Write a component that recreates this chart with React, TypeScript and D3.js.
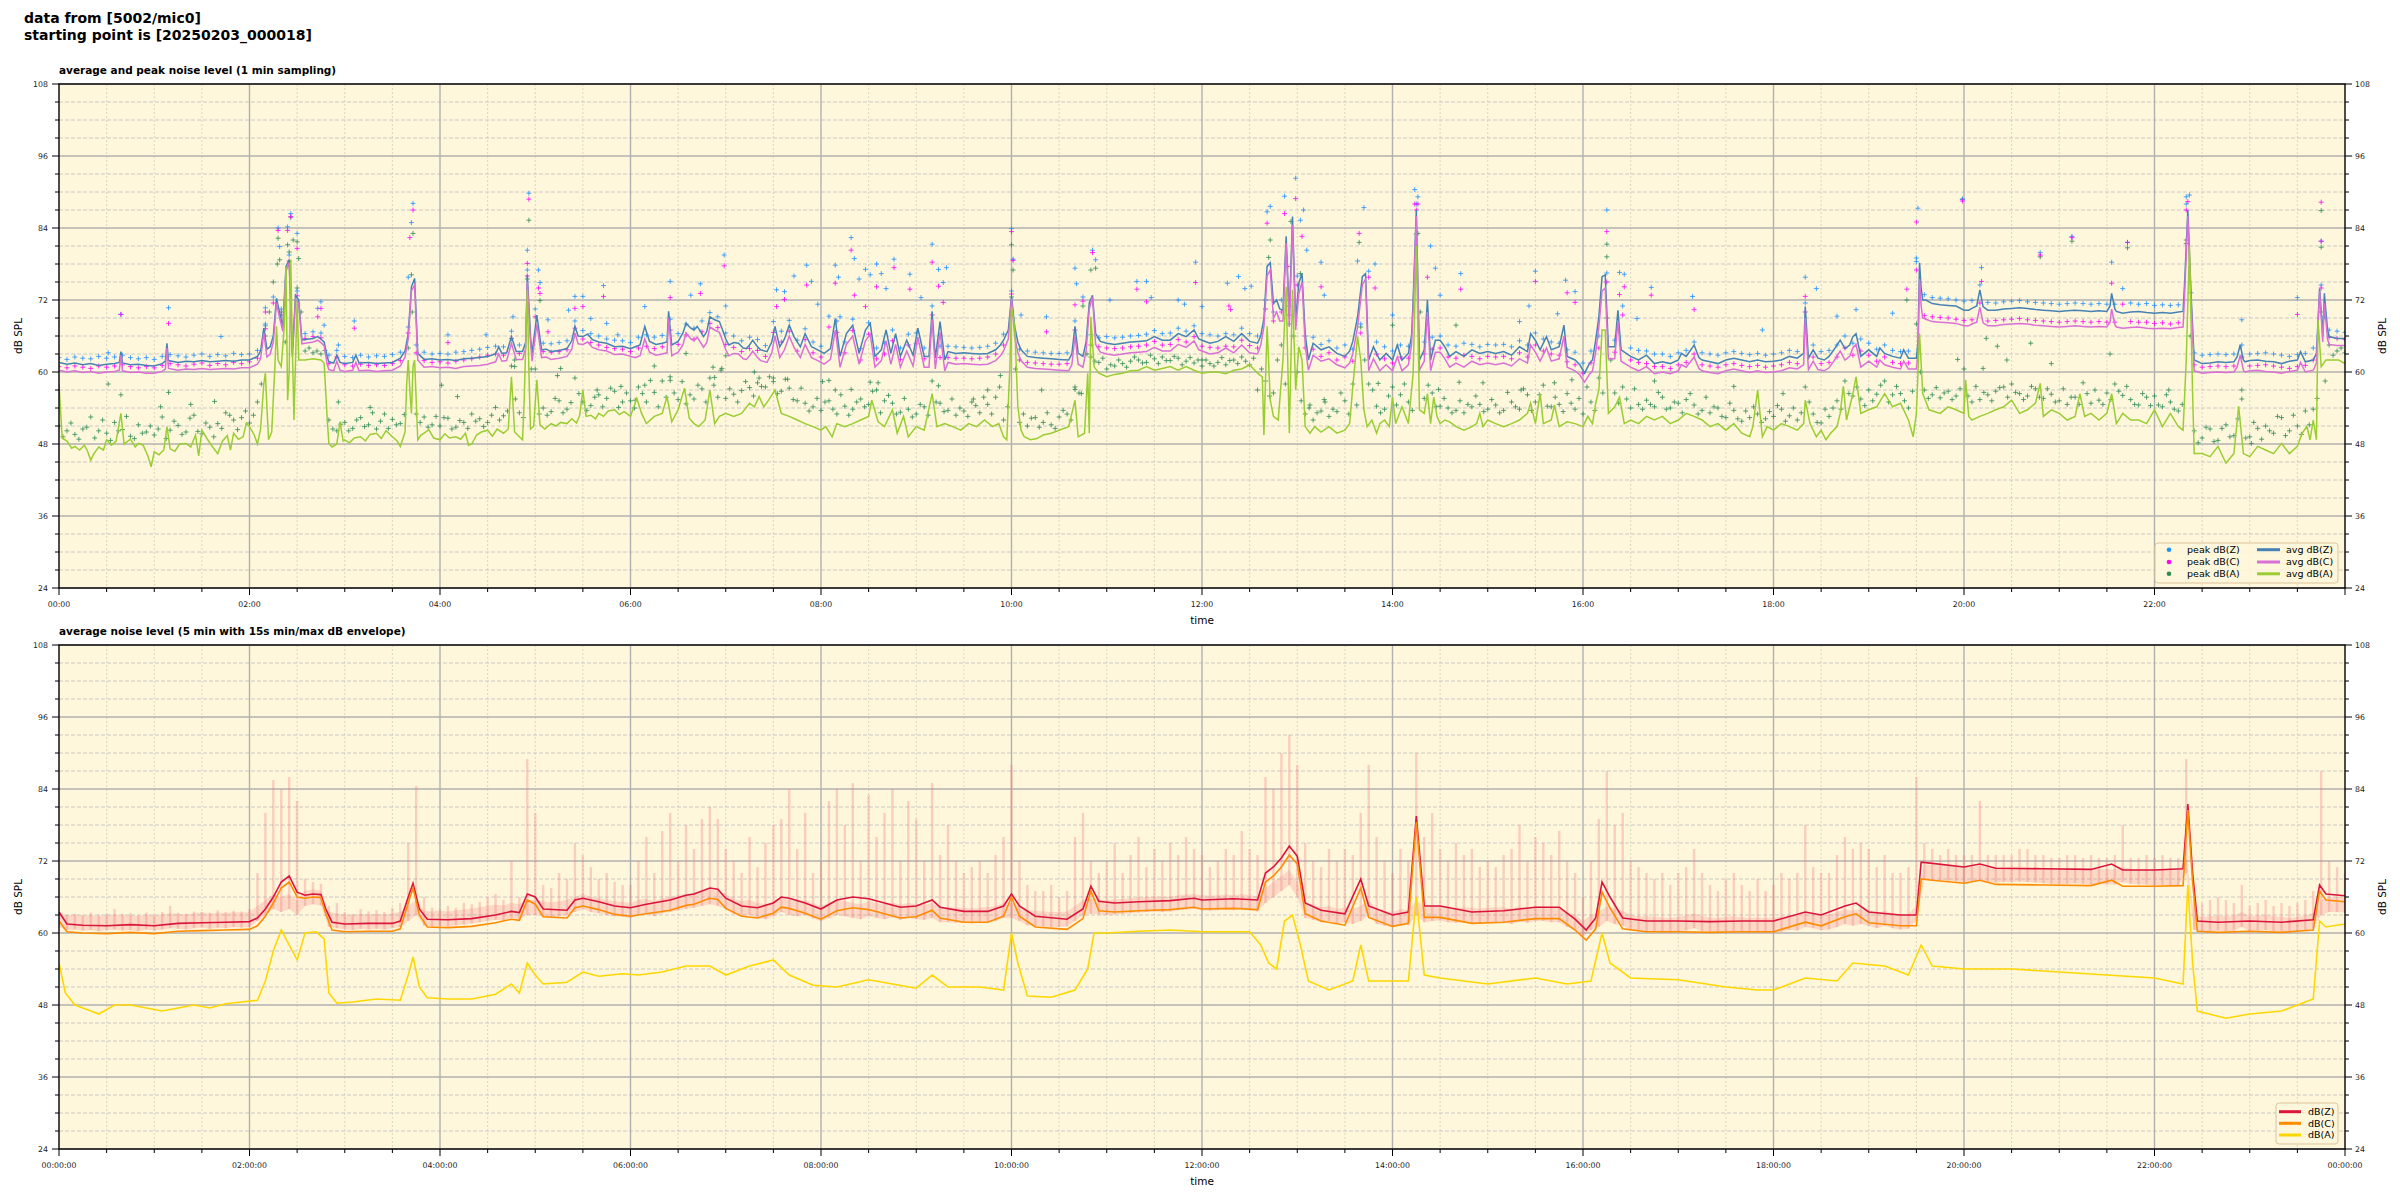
import React, { useEffect, useRef } from "react";
import * as d3 from "d3";

// ---------- DATA (minutes since 00:00, dB) ----------
const X_TICKS_1 = ["00:00","02:00","04:00","06:00","08:00","10:00","12:00","14:00","16:00","18:00","20:00","22:00"];
const X_TICKS_2 = ["00:00:00","02:00:00","04:00:00","06:00:00","08:00:00","10:00:00","12:00:00","14:00:00","16:00:00","18:00:00","20:00:00","22:00:00","00:00:00"];
const Y_TICKS = [24,36,48,60,72,84,96,108];

const avgZ: [number, number][] = [[0,61.6],[5,61.3],[10,61.5],[15,61.2],[20,61.4],[25,61.1],[30,61.3],[35,61.4],[38,61.6],[39,63.4],[40,61.5],[45,61.2],[50,61.3],[55,61.1],[60,61.0],[65,61.4],[67,61.8],[68,64.8],[69,61.9],[75,61.6],[80,61.8],[85,61.7],[90,61.9],[95,61.7],[100,61.8],[105,61.9],[110,61.8],[115,62.0],[120,62.0],[125,62.6],[127,63.5],[129,67.3],[131,63.8],[133,64.2],[135,66],[137,72.3],[139,69.8],[141,67.6],[143,77.6],[145,78.7],[147,63.1],[149,72.8],[151,72.0],[153,65.3],[155,65.4],[160,65.6],[163,65.9],[165,65.5],[167,65.0],[169,62.5],[170,61.7],[173,61.5],[175,62.8],[177,61.6],[180,61.4],[185,61.6],[187,62.8],[189,61.5],[195,61.6],[200,61.4],[205,61.5],[210,61.6],[215,62.3],[218,63.5],[220,66.4],[222,74.2],[224,75.6],[226,63.1],[230,62.1],[235,62.2],[240,62.0],[245,62.1],[250,61.9],[255,62.2],[260,62.3],[265,62.4],[270,62.6],[275,63.0],[277,64.2],[279,63.1],[282,63.2],[285,65.9],[288,63.4],[292,63.4],[294,65],[295,76.2],[297,66],[298,63.1],[301,69.5],[304,63.7],[307,63.8],[310,63.4],[315,63.6],[320,63.9],[323,65.2],[325,67.6],[327,66.0],[330,65.9],[333,66.3],[336,65.4],[340,65.0],[345,64.8],[350,64.2],[355,64.3],[360,63.9],
[363,64.2],[366,64.5],[369,67.6],[372,65.1],[376,64.6],[380,64.8],[383,65.0],[384,70.1],[386,64.5],[390,65.1],[393,66.5],[395,68.1],[398,67.3],[400,67.0],[402,67.6],[404,66.8],[406,65.9],[408,66.7],[410,69.2],[413,68.7],[416,68.4],[418,67.0],[420,65.5],[422,64.5],[425,64.9],[428,64.8],[431,64.0],[433,63.9],[435,64.5],[437,65.3],[440,64.2],[442,63.7],[446,63.4],[449,65.0],[451,67.6],[454,64.2],[457,65.5],[460,67.8],[463,65.9],[467,64.2],[470,66.4],[474,64.2],[478,63.7],[482,63.1],[486,63.9],[489,68.9],[492,62.6],[496,66.4],[500,67.8],[504,63.1],[508,67.0],[511,68.1],[514,62.6],[518,63.7],[521,67.0],[524,63.1],[527,66.4],[530,62.6],[534,65.3],[538,62.8],[541,67.3],[545,62.6],[548,62.6],[550,70.1],[552,62.3],[555,68.4],[558,62.0],[560,63.4],[565,63.1],[570,63.2],[575,63.1],[580,63.0],[585,63.1],[590,63.7],[593,64.5],[595,65.3],[598,67.0],[600,72.6],[602,67.6],[604,65.0],[606,63.7],[610,62.6],[615,62.4],[620,62.3],[625,62.2],[630,62.1],[636,62.0],[638,63.0],[640,67.6],[642,63.1],[645,62.6],[647,65],[649,71.5],[651,72.8],[653,66.4],[656,65.1],[660,64.8],[665,64.6],[670,64.8],[675,65.0],[680,65.1],[685,65.2],[690,65.9],[695,65.3],[700,65.3],[705,66.4],[710,65.9],[715,67.0],[718,65.5],[720,65.3],
[725,64.8],[730,65.1],[735,65.9],[740,65.1],[745,66.4],[750,65.1],[755,64.8],[757,66],[759,68.9],[761,77.6],[763,78.2],[765,71.4],[767,72.0],[769,70.5],[771,70.3],[773,82.6],[775,69.2],[777,85.9],[779,68.7],[781,74.8],[783,76.4],[785,66.4],[787,62.0],[790,64.8],[795,63.7],[800,64.2],[805,63.1],[810,62.6],[813,63.5],[815,65.1],[818,69.2],[821,75.9],[823,76.4],[825,62.0],[828,64.2],[832,62.0],[836,63.1],[840,62.0],[843,64.5],[846,62.0],[850,63.1],[852,66],[853,72.0],[855,87.0],[857,62.0],[860,63.7],[862,72.0],[864,62.0],[867,65.3],[870,65.3],[873,64.2],[876,62.6],[880,63.4],[885,62.6],[890,63.7],[895,63.1],[900,63.4],[905,63.1],[910,63.4],[915,62.8],[920,64.2],[925,63.4],[927,66.4],[930,65.3],[933,63.7],[937,65.9],[940,63.7],[945,64.2],[948,67.8],[950,62.6],[955,62.0],[958,61.2],[961,59.8],[964,61.4],[966,62.0],[968,65.3],[970,69.2],[972,75.9],[974,76.2],[976,64.2],[980,64.2],[982,70.3],[984,63.7],[990,62.6],[995,62.0],[1000,62.8],[1005,61.4],[1010,61.7],[1015,61.4],[1020,62.0],[1022,63.1],[1025,62.6],[1030,64.5],[1033,62.4],[1035,62.0],[1040,61.7],[1045,61.4],[1050,62.0],[1055,62.3],[1060,62.0],[1065,61.7],[1070,62.0],[1075,61.7],[1080,61.8],
[1085,62.0],[1090,62.6],[1095,62.3],[1099,63.1],[1100,70.9],[1102,62.3],[1105,63.7],[1108,62.3],[1112,62.0],[1115,62.6],[1118,63.7],[1122,65.3],[1125,63.9],[1128,64.5],[1130,65.9],[1132,66.4],[1135,62.6],[1140,63.7],[1145,62.6],[1147,64],[1150,63.1],[1155,62.6],[1160,62.3],[1162,63.7],[1165,62.3],[1170,62.3],[1171,65],[1172,78.2],[1173,74],[1174,72.0],[1176,72.0],[1180,71.4],[1185,71.2],[1190,71.1],[1195,71.0],[1200,70.3],[1203,70.3],[1205,70.6],[1208,71],[1210,73.7],[1212,70.9],[1215,70.3],[1220,70.3],[1225,70.5],[1230,70.6],[1235,70.7],[1240,70.6],[1245,70.4],[1250,70.3],[1255,70.2],[1260,70.1],[1265,70.2],[1270,70.3],[1275,70.2],[1280,70.1],[1285,70.2],[1290,70.1],[1292,71],[1293,73.1],[1295,70.5],[1296,70.1],[1300,69.8],[1305,70.0],[1310,70.1],[1315,69.9],[1320,69.8],[1325,69.9],[1330,69.8],[1335,70.0],[1338,70.1],[1339,75],[1341,87.0],[1343,73.1],[1345,62.0],[1350,61.4],[1355,61.5],[1360,61.7],[1365,61.6],[1370,61.7],[1372,62.5],[1374,64.5],[1376,62],[1377,61.7],[1380,61.9],[1385,62.0],[1390,61.8],[1395,61.7],[1400,61.4],[1405,61.8],[1410,62.0],[1412,63.4],[1415,61.7],[1420,62.0],[1422,63.1],[1424,73.9],[1426,66],[1427,73.1],[1429,67],[1430,65.9],[1435,65.6],[1440,65.6]];

const avgC: [number, number][] = [[0,60.3],[5,60.0],[10,60.2],[15,59.9],[20,60.1],[25,59.8],[30,60.0],[35,60.1],[38,60.3],[39,62.8],[40,60.2],[45,59.9],[50,60.0],[55,59.8],[60,59.8],[65,60.1],[67,60.5],[68,64.0],[69,60.6],[75,60.3],[80,60.5],[85,60.4],[90,60.6],[95,60.4],[100,60.5],[105,60.6],[110,60.5],[115,60.7],[120,60.7],[125,61.3],[127,62.2],[129,66.5],[131,62.5],[133,63],[135,65],[137,71.5],[139,69],[141,66.8],[143,76.8],[145,78.2],[147,62.5],[149,72.2],[151,71.4],[153,64.7],[155,64.8],[160,65.0],[163,65.3],[165,64.9],[167,64.4],[169,61.2],[170,60.4],[173,60.2],[175,61.8],[177,60.3],[180,60.1],[185,60.3],[187,61.6],[189,60.2],[195,60.3],[200,60.1],[205,60.2],[210,60.3],[215,61.0],[218,62.5],[220,65.5],[222,73.5],[224,74.5],[226,62.0],[230,60.8],[235,60.9],[240,60.7],[245,60.8],[250,60.6],[255,60.9],[260,61.0],[265,61.1],[270,61.3],[275,61.7],[277,63.0],[279,61.8],[282,61.9],[285,64.8],[288,62.1],[292,62.1],[294,64],[295,75.0],[297,65],[298,61.8],[301,68.0],[304,62.4],[307,62.5],[310,62.1],[315,62.3],[320,62.6],[323,63.8],[325,66.5],[327,64.7],[330,64.6],[333,65.0],[336,64.1],[340,63.7],[345,63.5],[350,62.9],[355,63.0],[360,62.6],
[363,62.4],[366,62.7],[369,65.5],[372,63.3],[376,62.8],[380,63.0],[383,63.2],[384,69.0],[386,62.7],[390,63.3],[393,64.5],[395,66.5],[398,65.5],[400,65.2],[402,65.8],[404,65.0],[406,64.1],[408,64.9],[410,67.5],[413,67.0],[416,66.6],[418,65.2],[420,63.7],[422,62.7],[425,63.1],[428,63.0],[431,62.2],[433,62.1],[435,62.7],[437,63.5],[440,62.4],[442,61.9],[446,61.6],[449,63.2],[451,66.0],[454,62.4],[457,63.7],[460,66.0],[463,64.1],[467,62.4],[470,64.6],[474,62.4],[478,61.9],[482,61.3],[486,62.1],[489,67.0],[492,60.8],[496,64.6],[500,66.0],[504,61.3],[508,65.2],[511,66.3],[514,60.8],[518,61.9],[521,65.2],[524,61.3],[527,64.6],[530,60.8],[534,63.5],[538,61.0],[541,65.8],[545,60.8],[548,60.8],[550,68.8],[552,60.5],[555,66.6],[558,60.2],[560,61.6],[565,61.3],[570,61.4],[575,61.3],[580,61.2],[585,61.3],[590,61.9],[593,62.7],[595,63.5],[598,65.5],[600,72.2],[602,66.0],[604,63.2],[606,61.9],[610,60.8],[615,60.6],[620,60.5],[625,60.4],[630,60.3],[636,60.2],[638,61.2],[640,66.0],[642,61.3],[645,60.8],[647,63.5],[649,70.5],[651,72.5],[653,64.6],[656,63.3],[660,63.0],[665,62.8],[670,63.0],[675,63.2],[680,63.3],[685,63.4],[690,64.1],[695,63.5],[700,63.5],[705,64.6],[710,64.1],[715,65.2],[718,63.7],[720,63.5],
[725,63.0],[730,63.2],[735,64.0],[740,63.2],[745,64.5],[750,63.2],[755,63.0],[757,64.5],[759,67.5],[761,76.0],[763,77.0],[765,69.0],[767,70.0],[769,68.5],[771,68.5],[773,81.5],[775,67.5],[777,84.5],[779,67.0],[781,73.0],[783,75.0],[785,64.5],[787,60.3],[790,62.8],[795,61.8],[800,62.2],[805,61.2],[810,60.7],[813,61.5],[815,63.0],[818,67.5],[821,74.5],[823,75.5],[825,60.2],[828,62.2],[832,60.2],[836,61.2],[840,60.2],[843,62.5],[846,60.2],[850,61.2],[852,64.5],[853,70.5],[855,86.0],[857,60.3],[860,61.8],[862,70.0],[864,60.2],[867,63.3],[870,63.3],[873,62.2],[876,60.8],[880,61.5],[885,60.8],[890,61.8],[895,61.2],[900,61.5],[905,61.2],[910,61.5],[915,61.0],[920,62.2],[925,61.5],[927,64.5],[930,63.3],[933,61.8],[937,64.0],[940,61.8],[945,62.2],[948,66.0],[950,60.8],[955,60.2],[958,59.5],[961,58.3],[964,59.6],[966,60.2],[968,63.3],[970,67.5],[972,73.5],[974,74.0],[976,62.2],[980,62.2],[982,68.5],[984,61.8],[990,60.8],[995,60.2],[1000,60.9],[1005,59.7],[1010,60.0],[1015,59.7],[1020,60.2],[1022,61.2],[1025,60.8],[1030,62.5],[1033,60.6],[1035,60.2],[1040,59.9],[1045,59.7],[1050,60.2],[1055,60.5],[1060,60.2],[1065,59.9],[1070,60.2],[1075,59.9],[1080,60.0],
[1085,60.2],[1090,60.7],[1095,60.5],[1099,61.2],[1100,69.0],[1102,60.4],[1105,61.8],[1108,60.4],[1112,60.2],[1115,60.7],[1118,61.8],[1122,63.5],[1125,62.0],[1128,62.6],[1130,64.0],[1132,64.6],[1135,60.8],[1140,61.8],[1145,60.8],[1147,62],[1150,61.2],[1155,60.8],[1160,60.5],[1162,61.8],[1165,60.5],[1170,60.5],[1171,63],[1172,75.5],[1173,71],[1174,69.0],[1176,68.8],[1180,68.4],[1185,68.3],[1190,68.2],[1195,68.1],[1200,67.7],[1203,67.7],[1205,68.0],[1208,68.3],[1210,70.8],[1212,68.2],[1215,67.7],[1220,67.7],[1225,67.9],[1230,68.0],[1235,68.1],[1240,68.0],[1245,67.8],[1250,67.7],[1255,67.6],[1260,67.5],[1265,67.6],[1270,67.7],[1275,67.6],[1280,67.5],[1285,67.6],[1290,67.5],[1292,68.3],[1293,70.5],[1295,67.9],[1296,67.5],[1300,67.3],[1305,67.4],[1310,67.5],[1315,67.3],[1320,67.2],[1325,67.3],[1330,67.2],[1335,67.4],[1338,67.5],[1339,73],[1341,86.0],[1343,72.0],[1345,60.2],[1350,59.8],[1355,59.9],[1360,60.0],[1365,59.9],[1370,60.0],[1372,60.8],[1374,62.8],[1376,60.3],[1377,60.0],[1380,60.2],[1385,60.3],[1390,60.1],[1395,60.0],[1400,59.8],[1405,60.1],[1410,60.3],[1412,61.6],[1415,60.0],[1420,60.3],[1422,61.5],[1424,73.5],[1426,65],[1427,71.5],[1429,65.5],[1430,64.6],[1435,64.4],[1440,64.4]];

const avgA: [number, number][] = [[0,58.0],[2,49.0],[5,48.5],[8,47.3],[10,47.6],[13,47.0],[16,47.8],[18,46.8],[20,45.3],[22,46.4],[25,47.5],[28,47.0],[30,48.7],[33,47.8],[36,48.5],[39,53.1],[41,48.0],[45,48.8],[48,47.5],[50,48.1],[53,47.8],[56,46.0],[58,44.2],[60,46.7],[63,46.2],[66,47.0],[68,50.9],[70,47.2],[73,46.8],[76,48.0],[80,48.1],[83,47.5],[86,49.5],[88,46.0],[90,50.3],[93,49.0],[96,47.8],[100,46.4],[103,48.5],[106,49.4],[108,47.0],[110,49.8],[113,48.8],[116,49.2],[118,51.5],[120,50.9],[123,49.5],[125,48.0],[127,50.5],[129,58.0],[130,59.8],[131,54],[132,48.7],[134,50],[136,61],[137,67.6],[138,62],[140,60.9],[142,68],[143,77.6],[144,55.3],[145,60],[146,78.7],[147,64],[148,52.0],[149,62],[150,72.0],[151,62.0],[155,62.0],[160,62.2],[165,62.0],[167,61.5],[169,52],[170,48.1],[172,47.5],[175,48.0],[177,51.7],[179,48.5],[180,48.7],[183,48.2],[186,49],[190,49.2],[193,48.5],[196,49.6],[200,49.8],[203,48.9],[206,50.2],[210,49.2],[213,48.5],[215,47.6],[218,50],[219,58],[220,62.0],[221,57],[222,53.1],[223,60.9],[224,62],[226,48.7],[228,49.5],[230,49.8],[233,50.4],[236,49.0],[240,48.7],[243,49.7],[246,49.0],[250,49.2],[253,48.8],[256,49.8],[258,47.8],[260,48.0],[263,49.5],[266,50.0],[270,50.3],[273,49.3],[276,50.5],[280,49.8],[283,50.5],[285,59.2],[287,50.0],[290,49.2],[292,48.7],[293,55],[295,73.7],[296,60],[297,50.5],[299,51.0],[301,58.7],[303,51.2],[306,50.5],[310,51.4],[313,51.0],[316,51.6],[320,51.4],[323,52.2],[326,51.5],[328,52.8],[330,57.0],[332,52.6],[335,52.8],[338,52.2],[340,53.1],[343,52.6],[346,53.5],[350,53.7],[353,52.9],[356,53.4],[360,52.6],
[364,55.6],[367,53.1],[370,51.4],[375,52.6],[380,53.1],[383,55.9],[386,51.7],[390,53.7],[394,57.3],[397,52.3],[400,51.4],[403,50.9],[407,52.0],[410,57.0],[413,51.4],[416,52.6],[420,53.1],[425,52.6],[430,53.1],[435,54.8],[438,54.2],[441,55.9],[444,54.2],[447,55.3],[451,57.0],[455,53.1],[460,52.6],[465,52.0],[470,51.4],[475,50.9],[480,50.3],[483,50.9],[487,49.2],[490,51.4],[495,50.9],[500,51.4],[505,52.0],[510,52.6],[512,55.3],[516,51.7],[520,50.9],[525,53.7],[528,49.8],[532,52.6],[535,49.2],[540,50.9],[545,50.3],[550,56.4],[553,50.9],[558,51.4],[563,50.9],[568,50.3],[573,51.4],[578,50.9],[583,52.0],[588,50.9],[592,51.4],[595,49.2],[597,48.7],[599,60.9],[600,70.9],[602,67.6],[604,54.2],[606,50.3],[608,49.2],[612,48.7],[616,48.9],[620,49.5],[625,49.8],[630,50.3],[636,50.9],[640,55.3],[642,49.2],[646,49.8],[648,59.8],[649,49.8],[650,69.2],[652,60.9],[655,59.8],[660,59.2],[665,59.6],[670,59.8],[675,60.2],[680,60.3],[685,60.9],[690,60.3],[695,60.6],[700,60.9],[705,60.3],[710,60.9],[715,60.3],[720,59.8],
[725,60.0],[730,60.0],[735,59.7],[740,60.3],[745,60.5],[750,61.2],[755,59.8],[758,59.2],[759,49.5],[761,67.6],[763,55.3],[765,52.6],[768,52.0],[771,62.0],[773,74.2],[775,49.8],[777,73.7],[779,57.0],[781,64.2],[783,62.0],[785,50.9],[788,49.8],[791,50.9],[795,50.0],[800,50.9],[805,49.8],[810,50.3],[813,51.4],[815,57.6],[818,65.9],[820,62.0],[822,53.7],[824,50.9],[827,52.0],[830,49.8],[832,51.4],[835,52.0],[838,50.9],[840,55.8],[842,51.4],[846,54.2],[850,51.4],[853,59.8],[855,81.0],[857,53.7],[860,53.1],[862,56.4],[864,51.4],[866,55.8],[868,52.6],[870,51.4],[873,52.0],[876,51.7],[880,50.9],[885,50.3],[890,50.9],[893,51.4],[895,53.1],[897,50.9],[900,52.0],[905,51.4],[910,50.9],[915,51.4],[920,52.0],[925,53.1],[927,54.8],[930,51.4],[933,56.4],[935,51.4],[940,52.0],[942,54.5],[945,50.9],[950,51.7],[955,51.4],[960,50.9],[963,52.6],[966,51.4],[968,54.8],[970,57.0],[972,67.0],[974,67.0],[976,53.1],[980,54.2],[983,55.8],[986,51.4],[990,52.0],[995,51.4],[1000,52.6],[1005,52.0],[1010,52.6],[1015,51.4],[1020,52.0],[1025,53.1],[1030,52.6],[1035,52.0],[1040,50.9],[1045,51.4],[1050,50.3],[1055,51.4],[1060,49.8],[1065,49.2],[1067,50.9],[1070,57.0],[1073,49.2],[1076,50.9],[1080,50.3],
[1085,51.4],[1090,50.9],[1095,50.3],[1099,51.4],[1100,55.3],[1103,51.4],[1107,49.2],[1110,50.3],[1113,48.7],[1116,49.8],[1120,50.9],[1122,53.1],[1124,57.6],[1126,52.0],[1128,54.2],[1130,56.4],[1132,59.2],[1135,53.1],[1140,53.7],[1145,54.2],[1150,56.4],[1155,54.2],[1160,54.8],[1165,52.0],[1168,49.2],[1170,53.1],[1172,66.4],[1174,56.4],[1178,53.7],[1185,53.1],[1190,54.2],[1195,53.7],[1200,53.1],[1201,58.7],[1203,52.6],[1205,52.0],[1210,52.6],[1215,53.1],[1220,53.7],[1225,54.2],[1230,55.3],[1235,53.1],[1240,53.7],[1245,54.8],[1248,58.1],[1250,52.6],[1255,53.7],[1260,53.1],[1265,52.0],[1270,52.6],[1273,56.4],[1276,52.6],[1280,53.1],[1285,52.0],[1290,53.1],[1293,56.4],[1296,51.4],[1300,53.1],[1305,52.0],[1310,52.0],[1315,51.4],[1320,53.7],[1325,50.9],[1330,53.1],[1335,50.9],[1338,50.3],[1340,62.0],[1342,81.0],[1344,56.4],[1345,46.4],[1350,46.4],[1355,45.9],[1360,47.6],[1365,44.8],[1370,46.4],[1373,54.3],[1376,46.4],[1380,45.9],[1385,47.6],[1390,47.0],[1395,46.4],[1400,48.1],[1405,46.4],[1410,47.6],[1413,49.8],[1416,50.9],[1418,48.7],[1420,52.0],[1422,48.7],[1423,68.7],[1425,60.9],[1428,62.0],[1432,62.0],[1436,62.0],[1440,61.4]];

// peak band, one value every 5 minutes (row = one hour)
const peakZBand: number[] = [
62.4,62.1,62.5,62.3,62.2,62.6,62.3,62.5,62.8,62.4,62.2,62.4,
62.1,62.6,62.9,62.7,62.5,62.8,63.0,62.6,62.9,62.7,63.1,62.9,
63.0,63.6,68.0,72.5,70.5,79.5,73.5,66.4,66.7,66.5,62.8,63.6,
62.6,62.4,62.8,62.5,62.7,62.6,62.9,63.3,67.5,64.5,63.3,63.0,
63.1,63.0,63.3,63.4,63.6,63.8,64.1,64.3,64.2,66.8,64.5,77.0,
70.5,64.8,64.7,64.9,65.2,68.5,66.9,66.4,66.0,65.5,65.3,65.2,
64.9,65.8,66.2,65.8,66.1,68.8,66.4,68.0,67.3,68.5,69.9,69.2,
66.5,66.0,65.2,65.8,65.4,64.4,68.4,66.8,68.6,65.3,67.2,65.0,
64.3,69.3,68.5,65.0,68.8,63.9,68.2,64.0,64.8,67.0,64.0,66.3,
66.5,64.0,71.0,64.3,64.3,64.2,64.1,64.0,64.1,64.3,64.8,66.3,
73.5,63.8,63.5,63.3,63.2,63.1,63.1,63.2,68.5,72.5,66.2,65.7,
65.9,65.7,65.8,66.0,66.1,66.3,66.9,66.4,66.5,67.3,66.8,67.7,
66.4,66.2,66.0,66.4,66.2,67.3,66.4,66.0,72.0,70.0,72.0,71.0,
76.0,66.0,65.8,64.6,65.2,64.0,64.5,63.8,68.0,76.8,65.0,64.2,
63.5,64.5,64.3,88.0,65.0,65.8,66.0,64.5,64.3,64.8,64.6,64.2,
64.6,64.5,64.6,64.2,65.2,64.5,66.5,65.5,65.0,64.8,63.7,63.3,
61.5,63.5,66.0,76.5,65.3,71.0,64.0,63.6,63.5,63.0,63.0,62.6,
63.2,63.6,65.0,63.2,63.0,62.8,63.2,63.4,63.1,62.9,63.1,62.8,
63.0,63.2,63.6,63.4,71.5,64.5,63.4,63.6,64.5,66.0,64.8,65.5,
64.8,63.8,64.5,63.6,63.4,63.5,79.0,72.9,72.4,72.3,72.2,72.0,
71.8,71.9,74.5,71.6,71.5,71.7,71.8,71.9,71.7,71.6,71.5,71.4,
71.3,71.4,71.5,71.4,71.3,71.4,71.3,71.3,73.9,71.5,71.3,71.4,
71.1,71.2,71.1,71.2,88.0,63.2,62.8,62.9,63.0,62.9,63.0,64.5,
63.0,63.1,63.2,63.0,62.8,62.6,62.9,63.1,64.0,74.5,67.0,66.8,
66.6];

const peakCBand: number[] = [
60.9,60.7,61.0,60.8,60.6,61.0,60.8,61.0,61.2,60.9,60.7,60.9,
60.7,61.1,61.4,61.2,61.0,61.3,61.5,61.1,61.4,61.2,61.6,61.4,
61.7,62.3,67.2,71.5,69.5,78.5,72.7,65.6,65.9,65.7,61.4,62.5,
61.2,61.0,61.3,61.1,61.2,61.1,61.4,61.9,66.5,63.2,61.9,61.6,
61.7,61.5,61.8,62.0,62.2,62.5,62.8,63.0,62.8,65.6,63.1,76.0,
69.2,63.4,63.3,63.4,63.7,67.3,65.5,64.9,64.5,64.1,63.9,63.8,
63.4,64.0,64.3,63.9,64.2,67.0,64.6,66.2,65.5,66.7,68.1,67.4,
64.6,64.1,63.4,63.9,63.6,62.6,66.6,65.0,66.8,63.5,65.4,63.2,
62.5,67.5,66.6,63.2,66.9,62.0,66.3,62.2,63.0,65.2,62.1,64.5,
64.7,62.2,69.5,62.4,62.4,62.3,62.3,62.2,62.3,62.5,63.0,64.5,
73.0,62.0,61.6,61.5,61.4,61.3,61.3,61.4,67.0,71.8,64.5,64.2,
64.0,63.9,64.0,64.2,64.3,64.5,65.1,64.5,64.6,65.4,65.0,65.9,
64.3,64.1,64.0,64.3,64.2,65.3,64.4,64.0,70.5,68.5,70.0,69.5,
74.5,64.0,63.8,62.6,63.2,62.0,62.5,61.8,66.5,75.8,63.0,62.2,
61.5,62.5,62.3,87.0,63.0,63.8,64.0,62.5,62.3,62.8,62.6,62.2,
62.6,62.5,62.6,62.2,63.2,62.5,64.5,63.5,63.0,62.8,61.7,61.2,
59.8,61.5,64.0,75.0,63.3,69.5,62.0,61.6,61.4,60.9,60.9,60.6,
61.2,61.6,63.0,61.2,61.0,60.8,61.2,61.4,61.1,60.9,61.1,60.8,
61.0,61.2,61.6,61.4,70.0,62.5,61.4,61.6,62.5,64.0,62.8,63.5,
62.8,61.8,62.5,61.6,61.4,61.5,77.0,69.4,69.2,69.1,69.0,68.8,
68.6,68.7,71.5,68.5,68.6,68.7,68.8,68.9,68.7,68.6,68.5,68.4,
68.3,68.4,68.5,68.4,68.3,68.4,68.3,68.3,71.3,68.4,68.3,68.3,
68.1,68.2,68.0,68.2,87.0,61.2,60.8,60.9,61.0,60.9,61.0,62.5,
61.0,61.1,61.2,61.0,60.8,60.6,60.9,61.1,62.0,74.0,65.8,65.6,
65.4];

const peakABand: number[] = [
51.0,50.2,49.6,50.5,52.5,50.2,49.8,51.6,50.4,49.3,51.2,50.0,
49.5,52.5,50.3,51.1,50.0,52.8,49.7,50.8,51.4,53.2,52.0,52.4,
51.5,55.0,66.0,75.0,70.0,80.0,74.0,63.5,63.2,63.0,52.0,50.2,
51.6,50.6,52.4,51.2,50.5,53.0,52.1,51.4,64.0,53.0,52.5,51.2,
51.0,52.3,50.8,51.6,53.0,52.2,51.6,54.1,52.7,61.0,53.2,75.5,
60.5,54.0,53.4,55.2,53.8,59.0,55.0,54.4,56.2,55.6,56.8,55.0,
55.2,57.5,55.0,56.6,58.5,59.2,55.4,54.7,55.5,57.2,59.0,55.8,
55.6,56.3,56.9,57.4,58.2,57.5,59.0,56.8,57.3,55.2,54.8,54.2,
53.6,55.2,53.0,54.3,53.8,55.5,54.6,57.0,55.2,54.8,53.3,53.8,
53.0,54.2,58.5,54.8,53.6,52.8,53.5,55.0,53.2,54.6,55.8,52.0,
72.5,51.6,51.0,52.4,51.6,51.2,52.5,53.0,57.5,71.0,62.5,61.6,
60.5,61.0,61.4,61.8,62.0,61.6,62.2,62.5,61.9,62.3,61.8,61.5,
61.0,61.4,61.6,61.2,62.0,62.5,61.2,57.0,58.5,56.5,64.5,68.0,
60.0,53.0,52.0,53.5,52.6,53.4,55.2,58.0,67.5,58.0,54.3,53.8,
57.5,56.2,55.0,83.0,55.6,56.5,54.3,54.0,53.6,53.2,54.2,54.6,
53.8,54.5,53.6,55.0,53.8,56.2,55.0,57.8,54.2,54.6,56.4,53.8,
53.0,55.0,59.0,69.0,56.5,57.5,54.0,54.6,55.3,54.2,55.8,54.0,
54.8,55.4,54.5,53.6,53.2,54.0,52.4,53.6,51.8,52.4,53.0,52.2,
52.6,53.8,52.7,52.0,57.5,53.0,51.5,52.6,55.2,58.5,56.0,55.5,
57.0,56.3,58.5,56.2,56.4,54.0,68.0,57.0,56.2,55.7,56.8,56.0,
60.5,55.0,55.4,56.2,56.8,57.5,58.0,56.4,56.0,57.2,55.6,56.3,
55.2,54.6,55.8,58.2,54.8,55.3,56.5,58.0,56.1,55.4,54.5,55.8,
56.0,54.2,55.0,53.5,82.0,50.2,49.0,50.5,48.6,51.2,49.4,55.5,
49.2,50.6,51.0,49.8,52.4,50.2,51.0,53.5,53.8,70.0,64.5,63.5,
63.2];

// second set of A-weighted peaks, read halfway between the 5-minute marks
const peakABand2: number[] = [
49.2,51.5,48.8,50.8,49.0,52.0,48.6,50.2,52.6,48.9,49.8,51.0,
50.5,48.9,51.8,49.6,52.3,50.1,51.5,49.2,50.6,52.8,50.4,53.5,
52.8,58.0,70.0,78.0,65.0,82.0,70.0,64.0,63.5,63.6,50.5,51.3,
50.2,52.0,50.9,53.2,51.8,50.6,51.2,52.9,70.0,51.6,50.8,52.6,
52.4,50.5,51.9,50.6,51.8,50.9,52.8,52.0,53.5,55.5,52.4,60.5,
53.0,52.8,55.6,53.2,54.9,56.4,53.6,55.8,54.2,57.3,54.1,56.5,
54.0,56.4,58.6,54.2,55.8,56.5,58.4,56.2,57.8,55.0,57.8,60.6,
57.2,55.0,58.4,56.0,57.6,59.2,56.4,58.8,55.4,57.3,53.5,55.6,
55.0,53.8,56.2,52.8,55.0,54.2,56.8,53.2,56.1,53.0,55.6,52.5,
54.6,52.8,55.0,53.4,55.5,54.0,52.6,54.4,55.8,53.0,57.5,54.2,
60.5,53.0,52.3,50.8,53.2,50.6,53.6,52.0,56.5,63.0,61.8,62.3,
61.2,62.0,60.8,62.5,61.5,62.8,61.4,61.9,62.6,61.2,62.4,62.0,
62.0,61.0,62.4,61.9,61.4,61.8,62.3,60.5,56.0,62.0,58.0,66.0,
55.2,54.0,53.2,55.0,53.8,56.5,53.0,54.5,62.0,57.0,53.2,56.0,
54.5,58.0,53.6,70.0,57.8,54.2,55.6,53.2,55.2,54.6,56.0,53.4,
55.4,53.2,56.6,54.2,57.2,53.6,56.2,54.3,55.8,53.4,54.8,55.6,
57.5,53.6,56.5,62.0,54.8,55.5,57.2,53.8,54.6,56.6,53.8,55.0,
53.2,56.4,53.0,55.8,54.2,52.6,54.8,52.2,53.5,54.2,51.6,53.4,
54.4,51.8,54.0,53.2,55.0,51.6,53.8,54.0,53.8,56.4,57.5,54.4,
55.2,57.8,55.0,57.6,55.2,56.8,60.0,55.6,57.4,56.5,55.4,57.2,
56.0,57.6,56.6,55.2,57.4,55.8,56.6,55.4,57.6,55.8,57.2,55.0,
57.2,55.8,54.6,56.4,57.0,54.6,55.4,56.8,57.6,54.6,56.4,54.4,
54.5,56.2,53.8,54.6,66.0,48.2,50.8,48.4,50.6,49.2,52.2,49.0,
51.6,48.8,50.2,52.6,49.4,52.8,49.6,51.2,55.6,58.5,62.8,64.0];

// isolated peak readings that stand out of the band
const peakZOut: [number, number][] = [[39,69.6],[69,70.7],[102,65.9],[31,63.2],[130,70.7],[130,67.7],[138,84],[139,80.9],[144,84.2],[146,86.4],[150,83.1],[163,70.6],[165,71.7],[167,67.8],[176,64.5],[186,68.5],[222,84.9],[223,88.1],[220,75.8],[245,66.2],[269,66.2],[286,69.2],[296,89.8],[295,80.3],[302,77],[303,74.9],[308,68.7],[321,70.3],[325,72.6],[330,72.6],[335,68.9],[343,74.4],[345,68.1],[352,66.2],
[369,70.9],[385,75.1],[404,74.7],[398,72.8],[419,79.5],[420,71],[452,73.7],[457,73.4],[463,76],[471,77.8],[474,75.1],[478,71.3],[489,77.8],[491,75.8],[492,69.2],[499,82.4],[501,78.9],[504,75.5],[508,77.1],[511,76.2],[515,78],[518,76.4],[521,73.9],[526,78.8],[536,76.3],[543,72.4],[550,81.3],[554,77.1],[557,74.9],[559,77.4],[600,83.9],[601,78.8],[640,77.3],[641,74.7],[651,80.3],[653,78.7],[662,72],[679,75.1],[685,75.1],[688,72.4],[705,72],[709,71.3],[716,78.3],[606,69.5],[622,69.2],
[720,70.9],[736,74.8],[743,75.9],[747,73.9],[751,74.3],[761,86.7],[763,87.6],[772,89.3],[779,92.3],[784,87],[782,85.3],[786,80.3],[795,78.3],[797,72.8],[818,78.5],[822,87.4],[829,78],[840,69.5],[854,90.4],[856,89.2],[864,81],[867,77.3],[883,76.4],[870,72.8],[920,68.4],[926,71],[930,76.8],[944,69.7],[949,75.3],[955,73.4],[975,87],[983,76.6],[986,76.3],[1003,74.1],[1029,72.6],[1073,67],[994,68.9],
[1100,75.8],[1107,73.9],[1120,69.3],[1132,70.4],[1155,69.8],[1171,87.3],[1170,78.4],[1199,88.8],[1211,77.4],[1248,79.9],[1268,82.6],[1293,78.3],[1303,81.6],[1340,89.2],[1342,89.5],[1343,73.2],[1375,68.7],[1410,72.4],[1425,81.8],[1427,69.2]];

const peakCOut: [number, number][] = [[39,69.6],[69,68.1],[130,70],[138,83.6],[144,83.6],[146,85.9],[150,80.6],[163,69.2],[165,70.6],[186,67.3],[221,82.4],[223,87],[296,88.8],[295,78.1],[302,74],[303,73.1],[308,66.7],[325,70.6],[330,70.9],[343,72.6],[245,64.9],
[385,72.4],[404,73.1],[419,77.7],[452,70.9],[457,72.1],[471,74.5],[489,74.8],[499,80.3],[501,72.8],[508,70.9],[515,74.2],[526,77.4],[536,73.8],[550,78.3],[554,74.3],[557,71.6],[600,83.4],[601,78.6],[640,71.2],[651,79.9],[679,73.8],[685,71.7],[716,74.9],[622,66.7],
[761,84.8],[772,86.4],[779,88.9],[783,82.6],[774,77.6],[795,74.2],[819,83.1],[829,74],[854,88],[856,88],[862,75.8],[883,73.8],[930,75.1],[950,73.2],[955,71.6],[975,83.4],[983,72.9],[986,74.2],[1003,72.8],[1030,70.4],[737,71],[738,70.4],
[1100,72.6],[1164,73.8],[1170,85],[1199,88.5],[1211,75.1],[1248,79.5],[1268,82.4],[1293,74.8],[1303,81.6],[1341,88.4],[1425,88.3],[1425,81.8],[1410,69.6]];

const peakAOut: [number, number][] = [[31,58],[39,56.2],[69,56.6],[138,82.3],[139,78.7],[144,81.2],[146,85.8],[150,81.7],[151,78.9],[222,76.2],[223,83.1],[296,85.3],[303,71.9],[287,60.9],[287,62],[314,59.4],[316,60.6],[339,57],[354,57.6],[241,57.8],[251,55.9],[176,55],[196,54.1],[98,55.1],[83,54.6],[64,54.2],
[600,81.2],[601,77],[650,77],[653,77.3],[363,55.3],[369,57.8],[385,58.6],[412,60.8],[417,60.3],[420,62.7],[438,60],[441,59],[450,58.4],[459,58.8],[481,58.4],[485,58.6],[489,57],[499,57.1],[511,58.3],[516,58.2],[554,57.7],[576,55.5],[585,57],[593,59.4],[619,57],[640,57.1],[644,56.4],[375,61],[395,63.1],[413,59.1],
[763,82],[762,79.1],[776,85.1],[782,76.4],[819,81.6],[856,83.1],[975,81.3],[975,79.2],[720,62],[880,67.8],[882,58.3],[897,58.2],[921,57],[942,58.2],[953,58.7],[1005,58.5],[1055,57.6],[831,58.1],[840,67.8],[869,57.1],[797,55.4],[788,54.5],
[1199,88.8],[1248,79.2],[1268,81.8],[1303,80.7],[1340,81.4],[1425,86.9],[1425,80.8],[1164,72],[1214,65.6],[1221,64.3],[1227,62],[1242,64.8],[1255,61.4],[1292,63],[1196,62.1],[1212,60.6],[1375,57],[1329,57],[1086,56.4],[1381,48.1]];

// panel 2: 5-minute averages
const p2Z: [number, number][] = [[0,63.5],[5,61.5],[15,61.3],[30,61.2],[45,61.4],[60,61.2],[75,61.6],[90,61.7],[105,61.8],[120,61.9],[125,62.5],[130,64],[135,66],[140,68.5],[145,69.5],[150,66.8],[155,66.3],[160,66.5],[165,66.4],[168,64],[172,61.8],[180,61.5],[195,61.6],[210,61.6],[215,62],[220,66],[223,68.3],[227,64],[232,62.3],[245,62.2],[260,62.4],[275,63],[285,63.6],[290,63.4],[295,66.5],[300,66],[305,64],[320,63.8],[325,65.5],[330,65.8],[340,65.2],[350,64.5],[360,64.2],[370,64.8],[385,65.5],[395,66.3],[400,66.5],[410,67.5],[415,67.3],[420,65.8],[430,64.5],[440,64.2],[450,65],[455,66],[460,65.8],[470,65],[480,64],[490,65.5],[500,66],[510,65.7],[520,65],[530,64.3],[540,64.5],[550,65.5],[555,64.3],[570,63.6],[585,63.6],[595,64.5],[600,66.5],[605,64.5],[615,62.8],[635,62.3],[645,64],[650,67.8],[655,65.3],[665,65],[680,65.2],[700,65.4],[715,65.8],[720,65.5],[740,65.7],[755,65.5],[760,70],[765,71],[770,72.5],[775,74.5],[780,72.8],[785,65],[795,63.8],[810,63.2],[820,69],[825,64.5],[840,63],[850,63.5],[855,79.5],[860,64.5],[870,64.5],[890,63.5],[910,63.7],[930,64.3],[945,64.3],[955,62.3],[962,60.5],[968,62.5],[972,68.5],[977,66],[985,62.5],[1000,62],[1020,62],[1040,61.9],[1060,62],[1080,62],[1100,63.5],[1110,63],[1125,64.5],[1132,65],[1140,63.5],[1160,63],[1170,63],[1173,71.8],[1180,71.6],[1200,71],[1210,71.5],[1220,70.8],[1250,70.7],[1280,70.6],[1293,71.5],[1300,70.5],[1320,70.5],[1338,70.7],[1341,81.5],[1344,70],[1347,62],[1360,61.8],[1380,62],[1400,61.8],[1420,62.2],[1424,68],[1428,66.5],[1440,66.2]];

const p2C: [number, number][] = [[0,62],[5,60.2],[15,60],[30,59.9],[45,60.1],[60,59.9],[75,60.3],[90,60.4],[105,60.5],[120,60.6],[125,61.2],[130,62.8],[135,65],[140,67.5],[145,68.5],[150,66],[155,65.8],[160,66],[165,65.9],[168,63.2],[172,60.5],[180,60.2],[195,60.3],[210,60.3],[215,60.7],[220,65],[223,67.5],[227,63],[232,61],[245,60.9],[260,61.1],[275,61.7],[285,62.3],[290,62.1],[295,65.5],[300,64.8],[305,62.7],[320,62.5],[325,64.2],[330,64.5],[340,63.9],[350,63.1],[360,62.8],[370,63.2],[385,63.8],[395,64.6],[400,64.8],[410,65.8],[415,65.6],[420,64.1],[430,62.8],[440,62.5],[450,63.3],[455,64.3],[460,64.1],[470,63.3],[480,62.3],[490,63.7],[500,64.2],[510,63.9],[520,63.2],[530,62.5],[540,62.7],[550,63.8],[555,62.5],[570,61.8],[585,61.8],[595,62.8],[600,66],[605,62.8],[615,61],[635,60.6],[645,62.4],[650,67],[655,63.7],[665,63.5],[680,63.7],[700,63.9],[715,64.3],[720,64],[740,64.1],[755,63.9],[760,68.5],[765,69.5],[770,71],[775,73],[780,71.5],[785,63.2],[795,62],[810,61.3],[820,67.5],[825,62.6],[840,61.1],[850,61.6],[855,78.5],[860,62.6],[870,62.6],[890,61.6],[910,61.8],[930,62.4],[945,62.4],[955,60.5],[962,58.8],[968,60.7],[972,66.8],[977,64.2],[985,60.7],[1000,60.2],[1020,60.2],[1040,60.1],[1060,60.2],[1080,60.2],[1100,61.8],[1110,61.2],[1125,62.7],[1132,63.2],[1140,61.7],[1160,61.2],[1170,61.2],[1173,69],[1180,68.8],[1200,68.3],[1210,68.8],[1220,68.1],[1250,68],[1280,67.9],[1293,68.8],[1300,67.8],[1320,67.8],[1338,67.9],[1341,80.5],[1344,68.5],[1347,60.3],[1360,60.1],[1380,60.3],[1400,60.1],[1420,60.5],[1424,67],[1428,65.5],[1440,65.2]];

const p2A: [number, number][] = [[0,55],[4,50],[10,48],[20,47],[25,46.5],[35,48],[45,48],[55,47.5],[65,47],[75,47.5],[85,48],[95,47.5],[105,48.2],[115,48.5],[125,48.8],[130,52],[135,57],[140,60.5],[145,58],[150,55.5],[155,60],[162,60.2],[167,59],[170,50],[175,48.3],[185,48.5],[200,49],[215,48.8],[220,53],[223,56],[227,51],[232,49.2],[245,49],[260,49],[275,49.8],[285,51.5],[290,50],[295,55],[300,53],[305,51.5],[320,51.8],[330,53.5],[340,52.8],[355,53.2],[365,53],[380,53.5],[395,54.5],[410,54.5],[420,53],[435,54.5],[450,55.5],[460,53],[475,51.3],[490,51],[510,52.2],[525,51.5],[540,50.8],[550,53],[560,51],[580,51],[595,50.5],[600,60],[604,55],[610,49.5],[625,49.3],[640,50.5],[648,54],[652,60],[660,60],[680,60.3],[700,60.5],[720,60.2],[750,60.2],[757,58],[762,55],[767,54],[772,62],[777,63],[782,58],[787,52],[800,50.5],[815,52],[820,58],[825,52],[840,52],[850,52],[855,66],[860,53],[870,52.5],[900,51.5],[930,52.5],[950,51.5],[965,52],[972,60],[977,55],[990,52.5],[1020,52.2],[1050,51],[1070,50.5],[1080,50.5],[1100,52.5],[1120,52],[1130,55],[1150,54.5],[1165,53],[1173,58],[1180,54.5],[1200,54],[1230,54],[1260,53.5],[1290,53],[1320,52.5],[1338,51.5],[1341,68],[1344,55],[1347,47],[1365,45.8],[1380,46.5],[1400,47],[1415,48.5],[1420,49],[1424,62],[1428,61],[1440,61.5]];

// 15 s envelope (max / min), one value every 5 minutes
const envHi: number[] = [
63.5,63,63.2,63,63.4,63.1,63.2,64,63.2,63.3,63,63.4,
63.1,63.5,64.5,63.4,63.2,63.6,63.5,63.4,63.8,63.5,63.7,63.6,
64,70,80,85.5,84,86,82,69,68.5,68.2,64.5,65,
63.5,63.2,64,63.6,63.8,63.5,64.2,65,75,84.5,66,64.2,
64,64.5,64.2,65,64.8,65.2,66,66.5,65.5,72,66,89,
80,68,67.5,70,69,75,73,71,69,70,68.5,68,
68,72,76,70,77,80,72,78,74,79,81,79,
74,72,70,76,71,75,78,79,84,74,80,70,
72,82,84,78,85,72,83,76,80,84,72,82,
79,72,85,73,78,72,70,71,72,70,73,76,
88,72,68,67,67,68,66,67,76,80,72,70,
72,75,70,73,76,71,74,72,75,73,76,74,
73,71,72,74,73,77,74,73,86,84,90,93,
88,75,72,71,74,72,74,73,80,88,76,72,
70,74,72,90,76,80,74,72,75,73,74,71,
72,71,73,74,78,72,76,75,73,77,72,70,
66,72,79,87,78,80,72,71,70,69,70,68,
70,71,74,70,68,67,69,70,68,67,69,67,
68,70,69,70,78,71,70,70,73,76,74,75,
74,71,73,70,70,71,86,75,74,73,74,73,
73,73,82,73,73,73,73,74,74,73,73,72.5,
72.5,73,73,72.5,73,72.5,72.5,73,78,72.5,72.5,73,
72.5,73,72.5,72.5,89,66,65,65.5,66,65.5,65,68,
64.5,65,65.5,64.5,65,64.5,65,65.5,67,87,72,71,
70];

const envLo: number[] = [
61,60.5,60.6,60.4,60.5,60.3,60.5,60.6,60.4,60.5,60.3,60.6,
60.4,60.6,60.8,60.7,60.6,60.8,60.9,60.7,60.9,60.8,61,60.9,
61,62,63,64,63.5,64,63,64.5,64.8,64.6,61,60.8,
60.6,60.5,60.7,60.6,60.7,60.6,60.8,61,62,63,61.2,61.1,
61.2,61.1,61.3,61.4,61.6,61.8,62,62.2,62.1,62.5,62.3,63,
63,62.8,62.6,62.8,63,63.5,64,63.5,63.3,63,62.8,62.7,
62.5,63,63.2,62.8,63.3,63.5,63.8,64,64.2,64.5,64.8,64.5,
64,63.2,62.8,63,62.5,62.3,62.8,63.5,63,62.8,63,62.4,
62,62.5,63,62.8,62.5,62.3,62.8,62.5,62.3,62.6,62.2,62.5,
62.3,62.2,62.5,61.8,61.8,61.7,61.7,61.6,61.7,61.8,62,62.5,
62.5,62,61.3,61.2,61.1,61,61,61.1,62,63,63.2,63.1,
63,63.1,63.2,63.3,63.4,63.5,63.6,63.5,63.6,63.8,63.9,64,
63.8,63.7,63.8,63.9,63.8,64,63.8,63.6,65,66,67,68,
66,62.5,62.2,61.8,62,61.5,61.8,61.5,62,63,61.5,61.2,
61,61.5,61.3,63,61.8,62,62.1,61.8,61.7,61.8,61.7,61.5,
61.8,61.7,61.8,61.5,61.9,61.7,62,62,61.8,61.8,61,60.5,
59.5,60.5,61,62,61.5,61.2,60.5,60.3,60.3,60.2,60.1,60,
60.2,60.4,60.8,60.3,60.1,60,60.2,60.3,60.1,60,60.1,60,
60.1,60.2,60.5,60.4,61,60.8,60.5,60.6,61,61.5,61.2,61.5,
61.2,60.8,61.2,60.8,60.6,60.7,62,69,68.8,68.8,68.7,68.6,
68.4,68.5,68.8,68.4,68.4,68.5,68.5,68.6,68.5,68.4,68.3,68.2,
68.1,68.2,68.3,68.2,68.1,68.2,68.1,68.1,68.5,68.2,68.1,68.1,
67.9,68,67.9,68,70,60.5,60.2,60.3,60.4,60.3,60.4,61,
60.3,60.4,60.5,60.3,60.2,60,60.2,60.4,60.8,63,63.5,63.5,
63.4];

// ---------- LAYOUT ----------
const W = 2400, H = 1200;
const X0 = 59, X1 = 2345;
const PANELS = [{ top: 84, bottom: 588 }, { top: 645, bottom: 1149 }];
const FONT = "DejaVu Sans, sans-serif";

export default function App() {
  const ref = useRef<SVGSVGElement | null>(null);

  useEffect(() => {
    const svg = d3.select(ref.current);
    svg.selectAll("*").remove();
    const x = d3.scaleLinear().domain([0, 1440]).range([X0, X1]);

    svg.append("text").attr("x", 24).attr("y", 23).attr("font-family", FONT).attr("font-size", 14).attr("font-weight", "bold").text("data from [5002/mic0]");
    svg.append("text").attr("x", 24).attr("y", 40).attr("font-family", FONT).attr("font-size", 14).attr("font-weight", "bold").text("starting point is [20250203_000018]");

    const titles = ["average and peak noise level (1 min sampling)", "average noise level (5 min with 15s min/max dB envelope)"];

    PANELS.forEach((p, pi) => {
      const y = d3.scaleLinear().domain([24, 108]).range([p.bottom, p.top]);
      const g = svg.append("g");
      g.append("rect").attr("x", X0).attr("y", p.top).attr("width", X1 - X0).attr("height", p.bottom - p.top).attr("fill", "#fff7dc");
      // grid
      for (let v = 27; v < 108; v += 3) {
        if (v % 12 === 0) continue;
        g.append("line").attr("x1", X0).attr("x2", X1).attr("y1", y(v)).attr("y2", y(v)).attr("stroke", "#bdbdbd").attr("stroke-width", 0.8).attr("stroke-dasharray", "4,2");
      }
      for (let m = 30; m < 1440; m += 30) {
        if (m % 120 === 0) continue;
        g.append("line").attr("x1", x(m)).attr("x2", x(m)).attr("y1", p.top).attr("y2", p.bottom).attr("stroke", "#d2ccbc").attr("stroke-width", 0.8).attr("stroke-dasharray", "2,2");
      }
      Y_TICKS.forEach(v => g.append("line").attr("x1", X0).attr("x2", X1).attr("y1", y(v)).attr("y2", y(v)).attr("stroke", "#b0b0b0").attr("stroke-width", 1.4));
      for (let m = 120; m < 1440; m += 120) g.append("line").attr("x1", x(m)).attr("x2", x(m)).attr("y1", p.top).attr("y2", p.bottom).attr("stroke", "#b0b0b0").attr("stroke-width", 1.4);

      const clipId = "clip" + pi;
      svg.append("clipPath").attr("id", clipId).append("rect").attr("x", X0).attr("y", p.top).attr("width", X1 - X0).attr("height", p.bottom - p.top);
      const data = g.append("g").attr("clip-path", `url(#${clipId})`);
      const line = d3.line<[number, number]>().x(d => x(d[0])).y(d => y(d[1]));

      if (pi === 0) {
        const plus = (pts: [number, number][], color: string) => {
          const path = pts.map(d => `M${x(d[0]) - 2.5},${y(d[1])}h5M${x(d[0])},${y(d[1]) - 2.5}v5`).join("");
          data.append("path").attr("d", path).attr("stroke", color).attr("stroke-width", 1).attr("fill", "none").attr("opacity", 0.8);
        };
        const band = (arr: number[], off: number): [number, number][] => arr.map((v, i) => [i * 5 + off, v]);
        plus(band(peakABand, 0).concat(band(peakABand2, 2.5), peakAOut), "#2e8b57");
        plus(band(peakZBand, 0).concat(peakZOut), "#1e90ff");
        plus(band(peakCBand, 0).concat(peakCOut), "#ff00ff");
        data.append("path").attr("d", line(avgZ)).attr("stroke", "#4682b4").attr("stroke-width", 1.5).attr("fill", "none");
        data.append("path").attr("d", line(avgC)).attr("stroke", "#da70d6").attr("stroke-width", 1.5).attr("fill", "none");
        data.append("path").attr("d", line(avgA)).attr("stroke", "#9acd32").attr("stroke-width", 1.5).attr("fill", "none");
      } else {
        const env = envHi.map((v, i) => ({ m: i * 5, hi: v, lo: envLo[i] }));
        const area = d3.area<{ m: number; hi: number; lo: number }>().x(d => x(d.m)).y0(d => y(d.lo)).y1(d => y(d.lo + Math.min(d.hi - d.lo, 2.5)));
        data.append("path").attr("d", area(env)).attr("fill", "#f08080").attr("opacity", 0.25);
        data.selectAll("rect.env").data(env).enter().append("rect")
          .attr("x", d => x(d.m) - 1.2).attr("width", 2.4)
          .attr("y", d => y(d.hi)).attr("height", d => y(d.lo) - y(d.hi))
          .attr("fill", "#f08080").attr("opacity", 0.35);
        data.append("path").attr("d", line(p2Z)).attr("stroke", "#dc143c").attr("stroke-width", 1.6).attr("fill", "none");
        data.append("path").attr("d", line(p2C)).attr("stroke", "#ff8c00").attr("stroke-width", 1.6).attr("fill", "none");
        data.append("path").attr("d", line(p2A)).attr("stroke", "#ffd700").attr("stroke-width", 1.6).attr("fill", "none");
      }

      // spines
      g.append("rect").attr("x", X0).attr("y", p.top).attr("width", X1 - X0).attr("height", p.bottom - p.top).attr("fill", "none").attr("stroke", "#000").attr("stroke-width", 1.4);

      // y ticks both sides
      for (let v = 24; v <= 108; v += 3) {
        const major = v % 12 === 0;
        const len = major ? 7 : 4;
        g.append("line").attr("x1", X0 - len).attr("x2", X0).attr("y1", y(v)).attr("y2", y(v)).attr("stroke", "#000").attr("stroke-width", 1);
        g.append("line").attr("x1", X1).attr("x2", X1 + len).attr("y1", y(v)).attr("y2", y(v)).attr("stroke", "#000").attr("stroke-width", 1);
      }
      Y_TICKS.forEach(v => {
        g.append("text").attr("x", X0 - 11).attr("y", y(v) + 3).attr("text-anchor", "end").attr("font-family", FONT).attr("font-size", 7.8).attr("fill", "#222").text(String(v));
        g.append("text").attr("x", X1 + 10).attr("y", y(v) + 3).attr("text-anchor", "start").attr("font-family", FONT).attr("font-size", 7.8).attr("fill", "#222").text(String(v));
      });
      // x ticks
      for (let m = 0; m <= 1440; m += 30) {
        const major = m % 120 === 0;
        g.append("line").attr("x1", x(m)).attr("x2", x(m)).attr("y1", p.bottom).attr("y2", p.bottom + (major ? 7 : 4)).attr("stroke", "#000").attr("stroke-width", 1);
      }
      const labels = pi === 0 ? X_TICKS_1 : X_TICKS_2;
      labels.forEach((t, i) => {
        g.append("text").attr("x", x(i * 120)).attr("y", p.bottom + 19).attr("text-anchor", "middle").attr("font-family", FONT).attr("font-size", 7.8).attr("fill", "#222").text(t);
      });
      g.append("text").attr("x", (X0 + X1) / 2).attr("y", p.bottom + 36).attr("text-anchor", "middle").attr("font-family", FONT).attr("font-size", 10.5).text("time");
      const midY = (p.top + p.bottom) / 2;
      g.append("text").attr("transform", `translate(22,${midY}) rotate(-90)`).attr("text-anchor", "middle").attr("font-family", FONT).attr("font-size", 10.5).text("dB SPL");
      g.append("text").attr("transform", `translate(2386,${midY}) rotate(-90)`).attr("text-anchor", "middle").attr("font-family", FONT).attr("font-size", 10.5).text("dB SPL");
      g.append("text").attr("x", X0).attr("y", p.top - 10).attr("font-family", FONT).attr("font-size", 10.5).attr("font-weight", "bold").text(titles[pi]);

      // legends
      if (pi === 0) {
        const lg = g.append("g");
        lg.append("rect").attr("x", 2155).attr("y", 543).attr("width", 183).attr("height", 40).attr("rx", 3).attr("fill", "#fff7dc").attr("fill-opacity", 0.85).attr("stroke", "#dcc39a").attr("stroke-width", 1);
        const rows = [549.7, 562, 573.8];
        const mk = [["peak dB(Z)", "#1e90ff"], ["peak dB(C)", "#ff00ff"], ["peak dB(A)", "#2e8b57"]];
        const ln = [["avg dB(Z)", "#4682b4"], ["avg dB(C)", "#da70d6"], ["avg dB(A)", "#9acd32"]];
        rows.forEach((ry, i) => {
          lg.append("circle").attr("cx", 2169).attr("cy", ry).attr("r", 2.3).attr("fill", mk[i][1]);
          lg.append("text").attr("x", 2187).attr("y", ry + 3.3).attr("font-family", FONT).attr("font-size", 9.5).text(mk[i][0]);
          lg.append("line").attr("x1", 2257).attr("x2", 2280).attr("y1", ry).attr("y2", ry).attr("stroke", ln[i][1]).attr("stroke-width", 3);
          lg.append("text").attr("x", 2286).attr("y", ry + 3.3).attr("font-family", FONT).attr("font-size", 9.5).text(ln[i][0]);
        });
      } else {
        const lg = g.append("g");
        lg.append("rect").attr("x", 2276).attr("y", 1103).attr("width", 62).attr("height", 41).attr("rx", 3).attr("fill", "#fff7dc").attr("fill-opacity", 0.85).attr("stroke", "#dcc39a").attr("stroke-width", 1);
        const rows = [1111.7, 1123.3, 1135];
        const ln = [["dB(Z)", "#dc143c"], ["dB(C)", "#ff8c00"], ["dB(A)", "#ffd700"]];
        rows.forEach((ry, i) => {
          lg.append("line").attr("x1", 2279).attr("x2", 2301).attr("y1", ry).attr("y2", ry).attr("stroke", ln[i][1]).attr("stroke-width", 3);
          lg.append("text").attr("x", 2308).attr("y", ry + 3.3).attr("font-family", FONT).attr("font-size", 9.5).text(ln[i][0]);
        });
      }
    });
  }, []);

  return (
    <svg ref={ref} width={W} height={H} style={{ position: "absolute", left: 0, top: 0, background: "#fff" }} />
  );
}
